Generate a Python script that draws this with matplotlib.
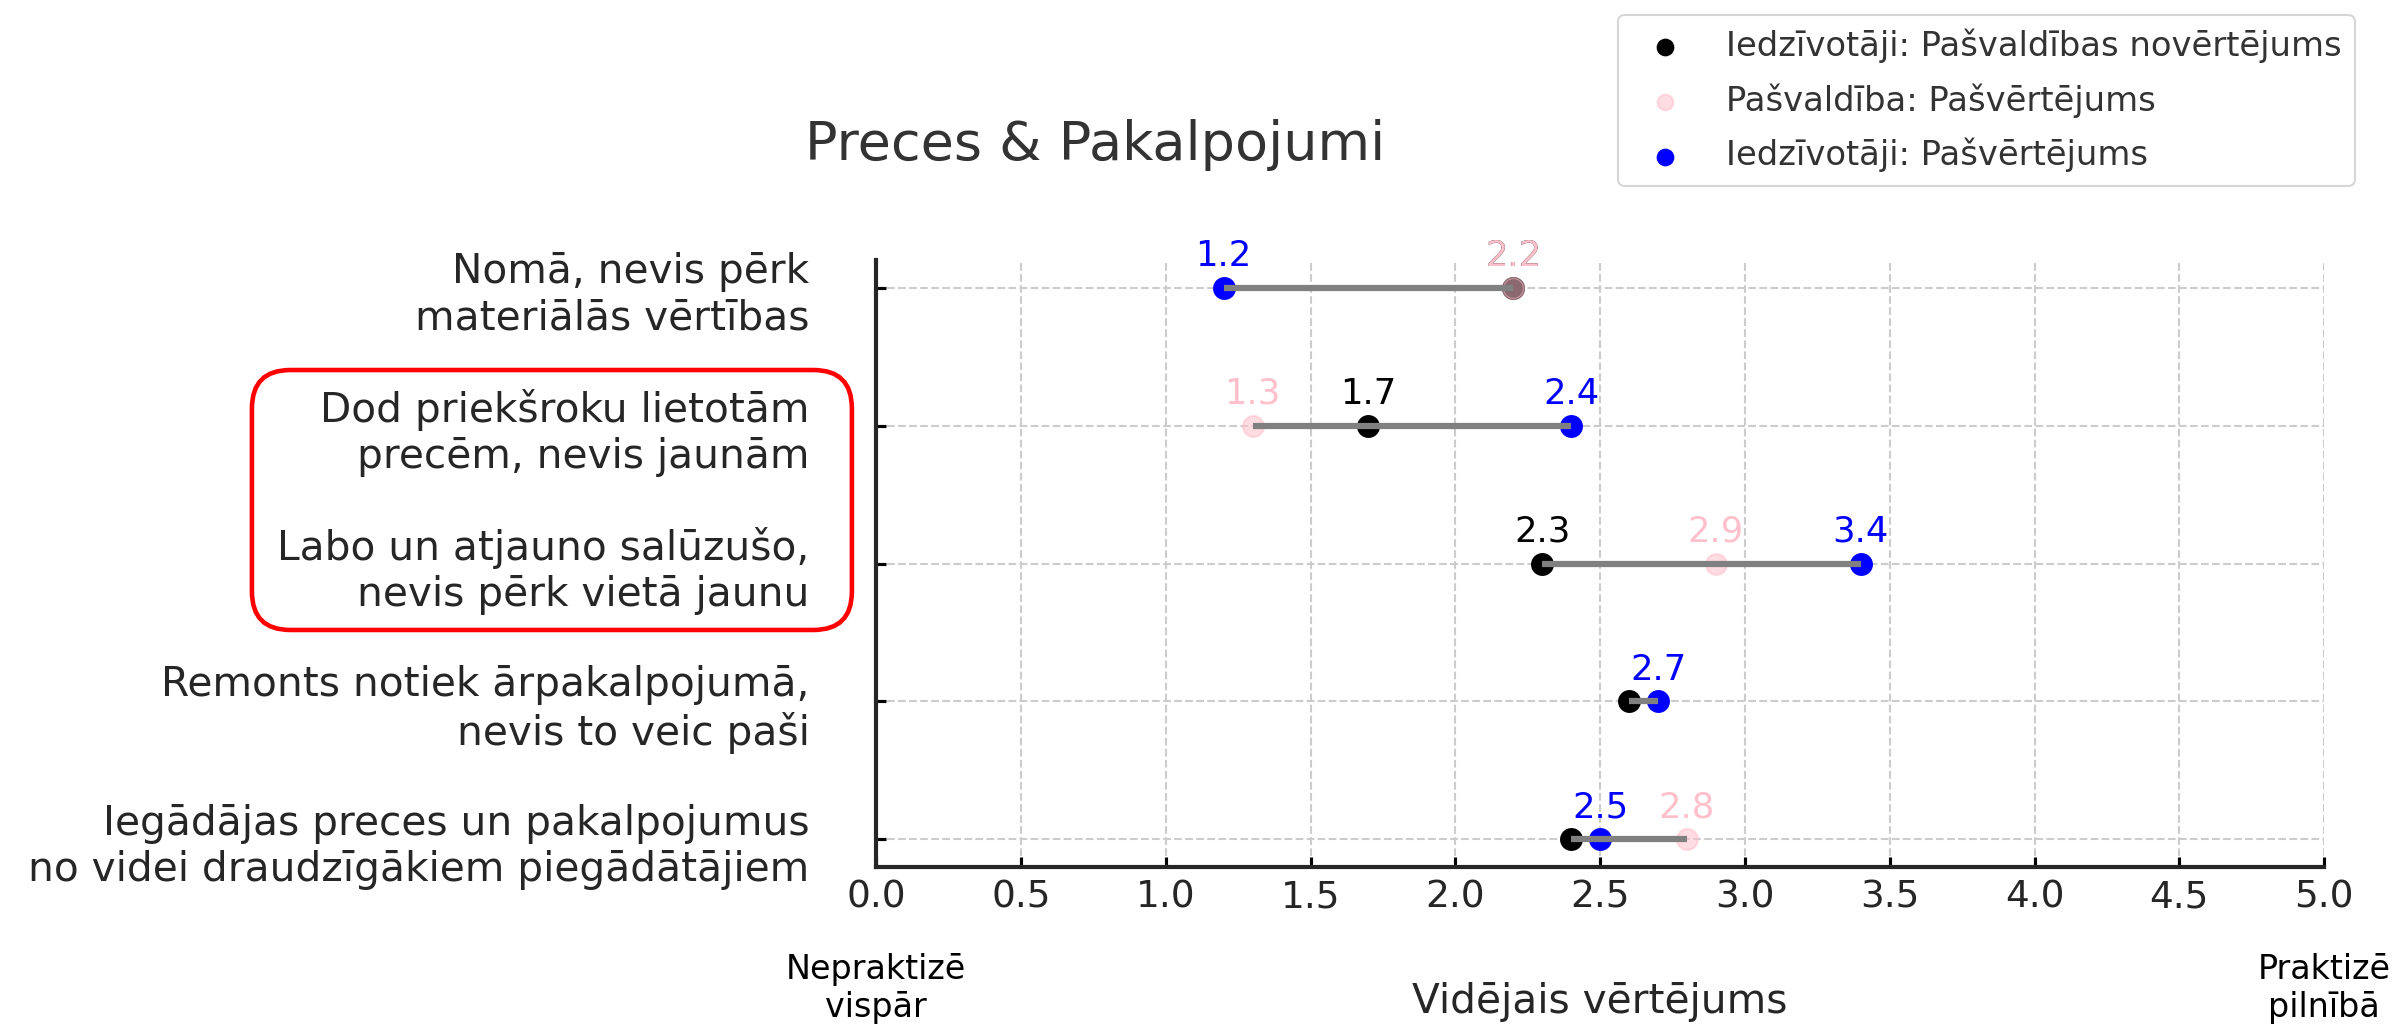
import numpy as np
import matplotlib.pyplot as plt
from matplotlib.patches import FancyBboxPatch

# Practices (top to bottom) and their average scores
practices = [
    'Nomā, nevis pērk\nmateriālās vērtības',
    'Dod priekšroku lietotām\nprecēm, nevis jaunām',
    'Labo un atjauno salūzušo,\nnevis pērk vietā jaunu',
    'Remonts notiek ārpakalpojumā,\nnevis to veic paši',
    'Iegādājas preces un pakalpojumus\nno videi draudzīgākiem piegādātājiem',
]
residents_on_municipality = [2.2, 1.7, 2.3, 2.6, 2.4]
municipality_self = [2.2, 1.3, 2.9, np.nan, 2.8]
residents_self = [1.2, 2.4, 3.4, 2.7, 2.5]

series_names = ['Iedzīvotāji: Pašvaldības novērtējums',
                'Pašvaldība: Pašvērtējums',
                'Iedzīvotāji: Pašvērtējums']
series_colors = ['black', 'pink', 'blue']
# black value labels are left out where they crowd the blue point
show_labels = [
    [True, True, True, False, False],
    [True, True, True, True, True],
    [True, True, True, True, True],
]

series = [residents_on_municipality, municipality_self, residents_self]
ypos = np.arange(len(practices))[::-1]

fig = plt.figure(figsize=(2397 / 150, 1027 / 150), dpi=150)
ax = fig.add_axes([0.3655, 0.1558, 0.6041, 0.591])

for vals, name, col, shows in zip(series, series_names, series_colors, show_labels):
    alpha = 0.55 if col == 'pink' else 1.0
    ax.scatter(vals, ypos, s=100, color=col, alpha=alpha, label=name, zorder=2)
    for v, y, show in zip(vals, ypos, shows):
        if show and not np.isnan(v):
            ax.annotate(f'{v:.1f}', (v, y), xytext=(0, 10.5), textcoords='offset points',
                        ha='center', va='baseline', fontsize=17, color=col, zorder=4)

# range line between lowest and highest score in each row
data = np.array(series, dtype=float)
ax.hlines(ypos, np.nanmin(data, axis=0), np.nanmax(data, axis=0),
          color='gray', lw=3, zorder=3)

ax.set_xlim(0, 5)
ax.set_xticks(np.arange(0, 5.01, 0.5))
ax.set_yticks(ypos)
ax.set_yticklabels(practices)
ax.tick_params(axis='x', direction='in', length=5, width=1.5, labelsize=18,
               labelcolor='#262626', pad=6)
ax.tick_params(axis='y', direction='in', length=5, width=1.5, labelsize=19.5,
               labelcolor='#262626', pad=32)
for t in ax.get_yticklabels():
    t.set_multialignment('right')
ax.grid(True, linestyle='--', color='#cccccc', lw=1, zorder=0)
ax.set_axisbelow(True)
for side in ['top', 'right']:
    ax.spines[side].set_visible(False)
for side in ['left', 'bottom']:
    ax.spines[side].set_color('#262626')
    ax.spines[side].set_linewidth(2)

ax.set_xlabel('Vidējais vērtējums', fontsize=19.5, color='#262626')
ax.xaxis.set_label_coords(0.5, -0.19)
ax.text(0, -0.2, 'Nepraktizē\nvispār', transform=ax.transAxes, ha='center',
        va='center', fontsize=16, color='black')
ax.text(1, -0.2, 'Praktizē\npilnībā', transform=ax.transAxes, ha='center',
        va='center', fontsize=16, color='black')

fig.text(0.4568, 0.8588, 'Preces & Pakalpojumi', ha='center', va='center',
         fontsize=26, color='#333333')

fig.legend(loc='upper right', bbox_to_anchor=(0.9825, 0.9854), borderaxespad=0,
           fontsize=16.2, markerscale=0.75, labelspacing=0.6, labelcolor='#333333',
           edgecolor='#cccccc', fancybox=True)

# highlight the two repair / reuse practices
aspect = 2397 / 1027
box = FancyBboxPatch((0.1051, 0.3866), 0.2503, 0.2531,
                     boxstyle='round,pad=0,rounding_size=0.016',
                     mutation_aspect=aspect, transform=fig.transFigure,
                     fill=False, edgecolor='red', lw=2.2)
fig.patches.append(box)

fig.savefig('out.png', dpi=150)
